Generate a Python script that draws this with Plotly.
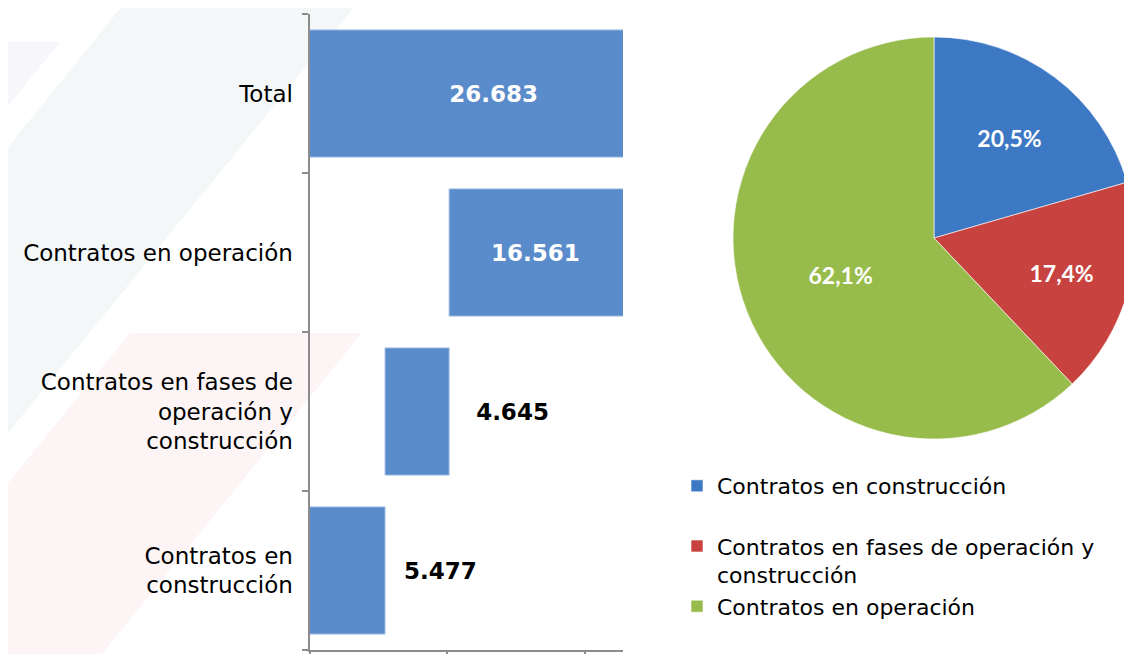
import plotly.graph_objects as go

# ---------------- data ----------------
bar_categories = [
    "Contratos en<br>construcción",
    "Contratos en fases de<br>operación y<br>construcción",
    "Contratos en operación",
    "Total",
]
bar_values = [5477, 4645, 16561, 26683]
bar_measures = ["relative", "relative", "relative", "total"]

pie_labels = [
    "Contratos en construcción<br>\u00a0",
    "Contratos en fases de operación y<br>construcción",
    "Contratos en operación",
]
pie_values = [5477, 4645, 16561]
pie_colors = ["#3d78c4", "#c8423f", "#98bc4b"]

x_ticks = [0, 10000, 20000]
x_max = 22730

W, H = 1132, 654
OFF = 8  # page body margin
BAR_COLOR = "#5a8bca"
AXIS_COLOR = "#8c8c8c"
FONT = "DejaVu Sans"
NB = "\u00a0"


def px(x):
    return (x - OFF) / W


def py(y):
    return 1 - (y - OFF) / H


fig = go.Figure()

fig.add_trace(go.Waterfall(
    orientation="h",
    y=bar_categories,
    x=bar_values,
    measure=bar_measures,
    connector=dict(visible=False),
    increasing=dict(marker=dict(color=BAR_COLOR, line=dict(color="#a3bfe4", width=1))),
    totals=dict(marker=dict(color=BAR_COLOR, line=dict(color="#a3bfe4", width=1))),
    texttemplate=[NB * 2 + "%{delta:,}", NB * 3 + "%{delta:,}",
                  "%{delta:,}" + NB * 7, "%{final:,}"],
    textposition=["outside", "outside", "inside", "inside"],
    insidetextanchor="middle",
    constraintext="none",
    insidetextfont=dict(family=FONT, size=23, color="white", weight="bold"),
    outsidetextfont=dict(family=FONT, size=23, color="black", weight="bold"),
    hoverinfo="skip",
    showlegend=False,
))

fig.add_trace(go.Pie(
    labels=pie_labels,
    values=pie_values,
    sort=False,
    direction="clockwise",
    rotation=0,
    marker=dict(colors=pie_colors, line=dict(color="rgba(255,255,255,0.6)", width=1)),
    texttemplate="%{percent:.1%}",
    textposition="inside",
    insidetextorientation="horizontal",
    textfont=dict(family="Lato", size=23, color="white", weight="bold"),
    domain=dict(x=[px(733), px(1135)], y=[py(439), py(37)]),
    hoverinfo="skip",
    showlegend=True,
))

# faint decorative background bands
shapes = []
bands = [
    ([(127, 0), (360, 0), (0, 443), (0, 157)], "#f4f7f7"),
    ([(0, 42), (60, 42), (0, 116)], "#f6f6fb"),
    ([(130, 333), (362, 333), (102, 654), (0, 654), (0, 493)], "#fdf5f5"),
]
for pts, col in bands:
    path = "M " + " L ".join(f"{px(x):.4f},{py(y):.4f}" for x, y in pts) + " Z"
    shapes.append(dict(type="path", xref="paper", yref="paper", path=path,
                       fillcolor=col, line=dict(width=0), layer="below"))

fig.update_layout(
    width=W, height=H,
    margin=dict(l=0, r=0, t=0, b=0),
    paper_bgcolor="white",
    plot_bgcolor="rgba(0,0,0,0)",
    separators=",.",
    waterfallgap=0.2,
    font=dict(family=FONT, size=23, color="black"),
    shapes=shapes,
    xaxis=dict(
        domain=[px(309.5), px(623)],
        range=[0, x_max],
        tickvals=x_ticks,
        showticklabels=False,
        ticks="outside", ticklen=6, tickwidth=2, tickcolor=AXIS_COLOR,
        showline=True, linecolor=AXIS_COLOR, linewidth=2,
        showgrid=False, zeroline=False, automargin=False, fixedrange=True,
    ),
    yaxis=dict(
        domain=[py(650), py(14)],
        type="category",
        tickson="boundaries",
        ticks="outside", ticklen=6, tickwidth=2, tickcolor=AXIS_COLOR,
        showline=True, linecolor=AXIS_COLOR, linewidth=2,
        showgrid=False, automargin=False, fixedrange=True,
        tickfont=dict(family=FONT, size=23, color="black"),
        ticklabelstandoff=10,
    ),
    legend=dict(
        x=px(677), y=py(465), xanchor="left", yanchor="top",
        font=dict(family=FONT, size=22, color="black"),
        valign="top",
        bgcolor="rgba(0,0,0,0)",
    ),
)

fig.write_html("out.html", config={"displayModeBar": False})
